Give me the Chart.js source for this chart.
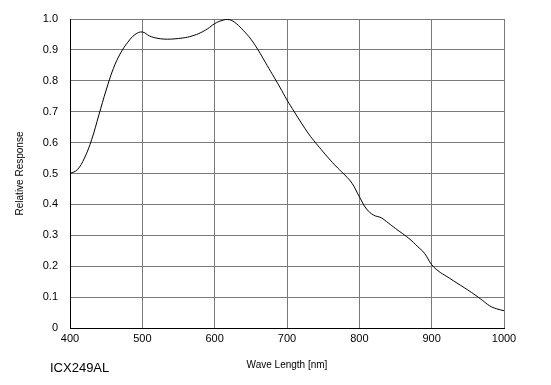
<!DOCTYPE html>
<html>
<head>
<meta charset="utf-8">
<script src="https://cdn.jsdelivr.net/npm/chart.js@4/dist/chart.umd.min.js"></script>
<style>
  html, body { margin: 0; padding: 0; background: #fff; }
  #wrap { width: 551px; height: 385px; }
</style>
</head>
<body>
<div id="wrap"><canvas id="chart" width="551" height="385"></canvas></div>
<script>
// ------------------ Data ------------------
const wavelengths = [400, 410, 420, 430, 440, 450, 460, 470, 480, 490,
                     500, 510, 520, 530, 540, 550, 560, 570, 580, 590,
                     600, 610, 620, 630, 640, 650, 660, 670, 680, 690,
                     700, 710, 720, 730, 740, 750, 760, 770, 780, 790,
                     800, 810, 820, 830, 840, 850, 860, 870, 880, 890,
                     900, 910, 920, 930, 940, 950, 960, 970, 980, 990, 1000];
const response = [0.500, 0.512, 0.550, 0.610, 0.690, 0.770, 0.840, 0.890, 0.925, 0.950,
                  0.958, 0.945, 0.938, 0.935, 0.935, 0.937, 0.940, 0.946, 0.955, 0.968,
                  0.985, 0.995, 0.998, 0.985, 0.962, 0.935, 0.900, 0.860, 0.820, 0.780,
                  0.738, 0.700, 0.663, 0.628, 0.598, 0.570, 0.543, 0.518, 0.495, 0.468,
                  0.425, 0.385, 0.365, 0.357, 0.340, 0.322, 0.305, 0.287, 0.265, 0.242,
                  0.205, 0.183, 0.168, 0.153, 0.138, 0.123, 0.107, 0.090, 0.072, 0.062, 0.056];
const xTicks = [400, 500, 600, 700, 800, 900, 1000];
const yTicks = [0, 0.1, 0.2, 0.3, 0.4, 0.5, 0.6, 0.7, 0.8, 0.9, 1.0];
const modelName = 'ICX249AL';

const FONT = 'Liberation Sans, Arial, sans-serif';

// footer label drawn under the chart
const modelLabel = {
    id: 'modelLabel',
    afterDraw(chart) {
        const ctx = chart.ctx;
        ctx.save();
        ctx.fillStyle = '#000';
        ctx.font = '13px ' + FONT;
        ctx.textBaseline = 'middle';
        ctx.textAlign = 'left';
        ctx.fillText(modelName, 50, 368);
        ctx.restore();
    }
};

const points = wavelengths.map(function(w, i) {
    return { x: w, y: response[i] };
});

new Chart(document.getElementById('chart').getContext('2d'), {
    type: 'line',
    data: {
        datasets: [{
            data: points,
            borderColor: '#000',
            borderWidth: 1,
            pointRadius: 0,
            tension: 0.4,
            fill: false
        }]
    },
    options: {
        responsive: false,
        animation: false,
        layout: { padding: { left: 0, right: 47, top: 19, bottom: 0 } },
        plugins: { legend: { display: false }, tooltip: { enabled: false } },
        scales: {
            x: {
                type: 'linear',
                min: 400,
                max: 1000,
                afterBuildTicks: function(axis) {
                    axis.ticks = xTicks.map(function(v) { return { value: v }; });
                },
                afterFit: function(axis) { axis.height = 57; },
                grid: { color: '#7a7a7a', lineWidth: 1, drawTicks: false },
                border: { color: '#000', width: 1 },
                ticks: {
                    color: '#000',
                    font: { family: FONT, size: 11 },
                    padding: 4,
                    maxRotation: 0,
                    autoSkip: false,
                    callback: function(v) { return String(v); }
                },
                title: {
                    display: true,
                    text: 'Wave Length [nm]',
                    color: '#000',
                    font: { family: FONT, size: 10 },
                    padding: { top: 4, bottom: 14 }
                }
            },
            y: {
                min: 0,
                max: 1,
                afterBuildTicks: function(axis) {
                    axis.ticks = yTicks.map(function(v) { return { value: v }; });
                },
                afterFit: function(axis) { axis.width = 70; },
                grid: { color: '#7a7a7a', lineWidth: 1, drawTicks: false },
                border: { color: '#000', width: 1 },
                ticks: {
                    color: '#000',
                    font: { family: FONT, size: 11 },
                    padding: 12,
                    callback: function(v) { return v === 0 ? '0' : v.toFixed(1); }
                },
                title: {
                    display: true,
                    text: 'Relative Response',
                    color: '#000',
                    font: { family: FONT, size: 10 },
                    padding: { top: 14, bottom: 0 }
                }
            }
        }
    },
    plugins: [modelLabel]
});
</script>
</body>
</html>
